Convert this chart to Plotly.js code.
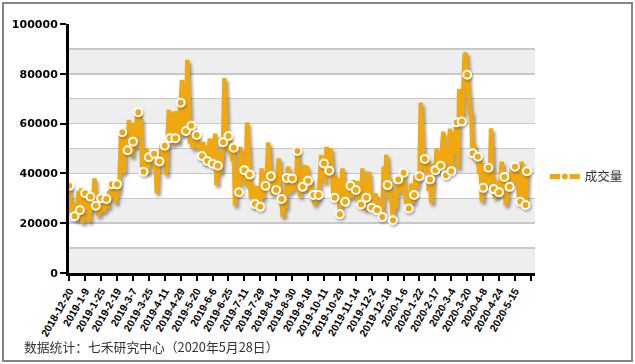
<!DOCTYPE html>
<html><head><meta charset="utf-8">
<script src="https://cdn.plot.ly/plotly-3.0.1.min.js"></script>
<style>
html,body{margin:0;padding:0;background:#fff;}
#wrap{position:relative;width:635px;height:364px;}
#chart{width:635px;height:364px;}
#frame{position:absolute;left:2px;top:2px;width:627px;height:356px;border:2px solid #858585;pointer-events:none;}
</style></head><body>
<div id="wrap"><div id="chart"></div><div id="frame"></div></div>
<script>
const seriesName = '成交量';
const footnote = '数据统计：七禾研究中心（2020年5月28日）';
const dateLabels = ['2018-12-20','2019-1-9','2019-1-25','2019-2-19','2019-3-7','2019-3-25','2019-4-11','2019-4-29','2019-5-20','2019-6-6','2019-6-25','2019-7-11','2019-7-29','2019-8-14','2019-8-30','2019-9-18','2019-10-11','2019-10-29','2019-11-14','2019-12-2','2019-12-18','2020-1-6','2020-1-22','2020-2-17','2020-3-4','2020-3-20','2020-4-8','2020-4-24','2020-5-15'];
const volume = [
35000,30000,23000,27000,22800,28000,21000,33000,25200,34000,20000,24000,32000,28000,33000,20500,
30600,25000,28000,38000,27000,30000,22800,26000,30000,27000,24500,31000,29700,26000,33000,30000,
35600,31000,37000,28000,35600,32000,38600,57000,56500,40000,58000,52000,49300,61500,55000,46700,
52700,60000,50000,63000,64600,55000,62000,42000,40700,46000,50000,40000,46500,48700,44000,47000,
47900,44000,32000,42000,44800,48000,52000,46000,51100,39300,56000,65500,54100,56000,51400,64800,
54100,65000,52000,64000,68400,77600,55000,60000,57000,85600,60000,52000,59100,50000,56000,52000,
55400,50000,52000,47000,47000,52700,44000,50000,45000,49000,54000,46000,43900,50000,56000,35300,
43100,48000,40000,45000,52500,78300,65000,50000,55000,48000,52000,45000,50300,27000,40000,36000,
32400,50700,38000,46000,41300,35000,60500,45000,39600,30000,36000,27500,27700,35000,28000,33000,
26600,42000,30000,38000,35000,40000,52500,44000,38900,31300,40000,36000,33300,40000,46000,34000,
29700,22500,30000,26000,38200,42700,32000,36000,38000,33000,40000,35000,49000,40000,30600,36000,
34600,43400,33000,43000,37000,33000,38000,30000,31300,27300,33000,29000,31300,40000,47400,38000,
44000,36000,50700,45000,41100,50000,35000,32000,30200,39300,33000,38000,23600,30000,42000,32000,
28600,36000,30000,33000,35000,30000,37300,32000,33300,37000,28000,32000,27500,42000,30000,25200,
30200,35000,40700,30000,26200,30000,27000,32000,25200,29000,24000,27000,22500,42700,33000,47500,
35300,30000,38000,28000,21200,30000,26000,34000,37600,32000,40700,35000,40300,33000,28000,31000,
25900,30000,36000,28000,31300,39300,34000,37000,38900,68400,50000,42000,45800,40000,46000,33000,
37600,28000,36000,44000,41300,50000,40000,48000,43100,50000,56800,45000,39300,50000,45000,58000,
40900,56800,48000,55000,60500,42000,74000,65000,60800,72000,87600,88300,79600,70000,64000,64000,
48100,52000,45000,47400,46700,40000,45000,28600,34200,38000,44000,35000,42300,36000,58100,40000,
33700,30000,37000,31000,32400,36000,44700,35000,38600,27300,30000,35000,34600,38000,43400,36000,
42700,36000,40000,30000,28600,44700,35000,30000,27300,40900
];
const yTicks = [0,20000,40000,60000,80000,100000];
const labelEvery = 12;

const idx = volume.map((_, i) => i);
const mIdx = idx.filter(i => i % 4 === 0 || i === volume.length - 1);
const tickvals = dateLabels.map((_, k) => k * labelEvery).concat([dateLabels.length * labelEvery]);
const ticktext = dateLabels.concat(['']);

const orange = '#F0A80E';
const bands = [];
for (let v = 0; v < 100000; v += 20000) {
  bands.push({type:'rect', xref:'paper', x0:0, x1:1, yref:'y', y0:v, y1:v+10000,
    fillcolor:'#eeeeee', line:{width:0}, layer:'below'});
}

const traces = [
  {x: idx, y: volume, type:'scatter', mode:'lines', line:{color:orange, width:4.5}, showlegend:false, hoverinfo:'skip'},
  {x: mIdx.map(i => idx[i]), y: mIdx.map(i => volume[i]), type:'scatter', mode:'markers',
   marker:{color:orange, size:8, line:{color:'#ffffff', width:2}}, showlegend:false},
  {x:[null], y:[null], type:'scatter', mode:'lines+markers', name:seriesName,
   line:{color:orange, width:5}, marker:{color:orange, size:8, line:{color:'#ffffff', width:2}}}
];

const layout = {
  width:635, height:364,
  margin:{l:69, r:100, t:24, b:91},
  paper_bgcolor:'#ffffff', plot_bgcolor:'#ffffff',
  showlegend:true,
  legend:{xref:'container', yref:'container', x:0.858, y:0.514, xanchor:'left', yanchor:'middle',
    font:{family:'Noto Sans CJK SC', size:12.5, color:'#333333'}, bgcolor:'rgba(0,0,0,0)'},
  xaxis:{range:[-0.2, 351.1], tickmode:'array', tickvals:tickvals, ticktext:ticktext,
    tickangle:-60, ticks:'outside', ticklen:5, tickwidth:2, tickcolor:'#000',
    showline:true, linewidth:3, linecolor:'#000', showgrid:false, zeroline:false,
    tickfont:{family:'Liberation Sans', size:10.5, weight:700, color:'#000'}},
  yaxis:{range:[0,100000], tickmode:'array', tickvals:yTicks, ticktext:yTicks.map(String),
    ticks:'outside', ticklen:6, tickwidth:2, tickcolor:'#000',
    showline:true, linewidth:3, linecolor:'#000', zeroline:false,
    showgrid:true, gridcolor:'#c8c8c8', gridwidth:1.5,
    minor:{dtick:10000, showgrid:true, gridcolor:'#c8c8c8', gridwidth:1.5},
    tickfont:{family:'DejaVu Sans', size:11, weight:700, color:'#000'}},
  shapes: bands,
  annotations:[{text:footnote, xref:'paper', yref:'paper', x:-0.101, y:-0.297, xanchor:'left', yanchor:'middle',
    showarrow:false, font:{family:'Noto Sans CJK SC', size:12.8, color:'#333333'}}]
};

Plotly.newPlot('chart', traces, layout, {displayModeBar:false, staticPlot:true}).then(() => {
  const groups = document.querySelectorAll('.cartesianlayer .scatterlayer .trace');
  if (groups[0]) groups[0].style.filter = 'drop-shadow(2px 3px 1.5px rgba(0,0,0,0.38))';
  if (groups[1]) groups[1].style.filter = 'drop-shadow(1px 2px 1px rgba(0,0,0,0.25))';
});
</script>
</body></html>
